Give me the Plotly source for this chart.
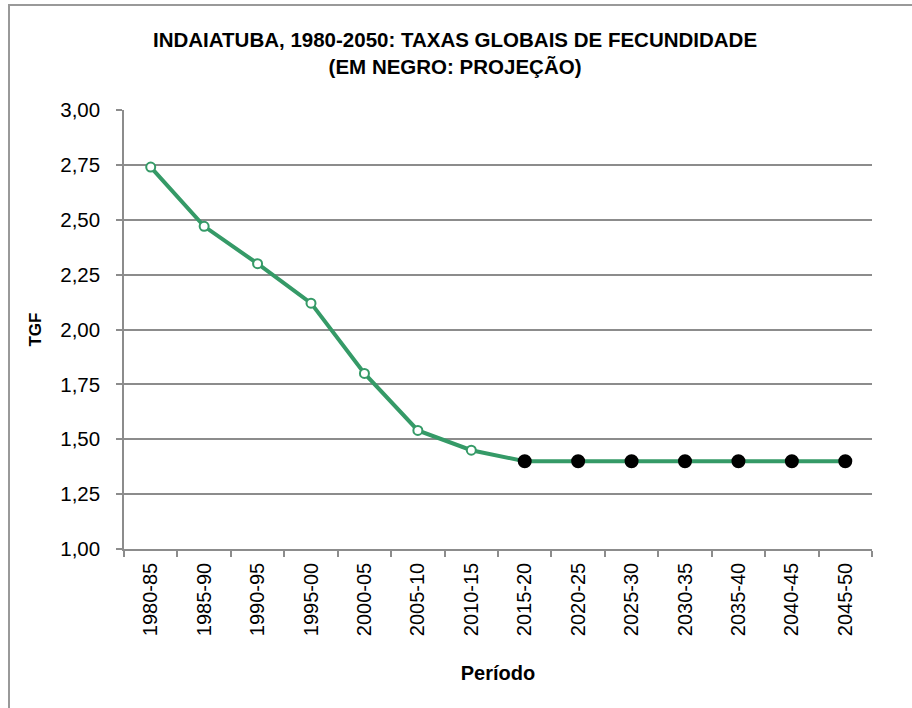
import plotly.graph_objects as go

periods = ["1980-85", "1985-90", "1990-95", "1995-00", "2000-05", "2005-10", "2010-15",
           "2015-20", "2020-25", "2025-30", "2030-35", "2035-40", "2040-45", "2045-50"]
tgf = [2.74, 2.47, 2.30, 2.12, 1.80, 1.54, 1.45, 1.40, 1.40, 1.40, 1.40, 1.40, 1.40, 1.40]
is_projection = [False] * 7 + [True] * 7
title_lines = ["INDAIATUBA, 1980-2050: TAXAS GLOBAIS DE FECUNDIDADE", "(EM NEGRO: PROJEÇÃO)"]

GREEN = "#359a67"
GRID = "#8c8c8c"
fill = ["#000000" if p else "#ffffff" for p in is_projection]
outline = ["#000000" if p else GREEN for p in is_projection]
sizes = [12 if p else 9 for p in is_projection]

fig = go.Figure()
fig.add_trace(go.Scatter(
    x=periods, y=tgf, mode="lines+markers",
    line=dict(color=GREEN, width=4),
    marker=dict(color=fill, size=sizes, opacity=1, line=dict(color=outline, width=2)),
    showlegend=False, hoverinfo="skip",
))

W, H = 912, 708
L, R, T, B = 124, 40, 110, 159
pw, ph = W - L - R, H - T - B

def px_x(p):
    return (p - L) / pw

def px_y(p):
    return (H - B - p) / ph

FONT = "Liberation Sans, Arial"
title_text = "<br>".join(f"<b>{line}</b>" for line in title_lines)

fig.update_layout(
    width=W, height=H,
    margin=dict(l=L, r=R, t=T, b=B),
    paper_bgcolor="white", plot_bgcolor="white",
    separators=",.",
    font=dict(family=FONT, size=20, color="black"),
    annotations=[dict(
        text=title_text, xref="paper", yref="paper",
        x=px_x(W / 2 - 1), y=px_y(53), xanchor="center", yanchor="middle",
        showarrow=False, font=dict(size=20.5, family=FONT, color="black"),
    )],
    hovermode=False,
    xaxis=dict(
        type="category", tickangle=-90, tickson="boundaries",
        showline=True, linecolor=GRID, linewidth=1.5,
        ticks="outside", ticklen=6, tickcolor=GRID, tickwidth=1.5,
        showgrid=False, tickfont=dict(size=20), ticklabelstandoff=4,
        title=dict(text="<b>Período</b>", font=dict(size=20), standoff=31),
        range=[-0.5, 13.5],
    ),
    yaxis=dict(
        range=[1, 3], dtick=0.25, tickformat=".2f",
        showline=True, linecolor=GRID, linewidth=1.5,
        ticks="outside", ticklen=6, tickcolor=GRID, tickwidth=1.5,
        showgrid=True, gridcolor=GRID, gridwidth=1.5,
        zeroline=False, tickfont=dict(size=20.5), ticklabelstandoff=12,
        title=dict(text="<b>TGF</b>", font=dict(size=17), standoff=14),
    ),
    shapes=[dict(
        type="rect", xref="paper", yref="paper",
        x0=px_x(9), x1=px_x(940), y0=px_y(740), y1=px_y(5),
        line=dict(color="#999999", width=2), fillcolor="rgba(0,0,0,0)", layer="below",
    )],
)

fig.write_html("out.html", config={"displayModeBar": False},
               post_script="document.body.style.margin='0';")
